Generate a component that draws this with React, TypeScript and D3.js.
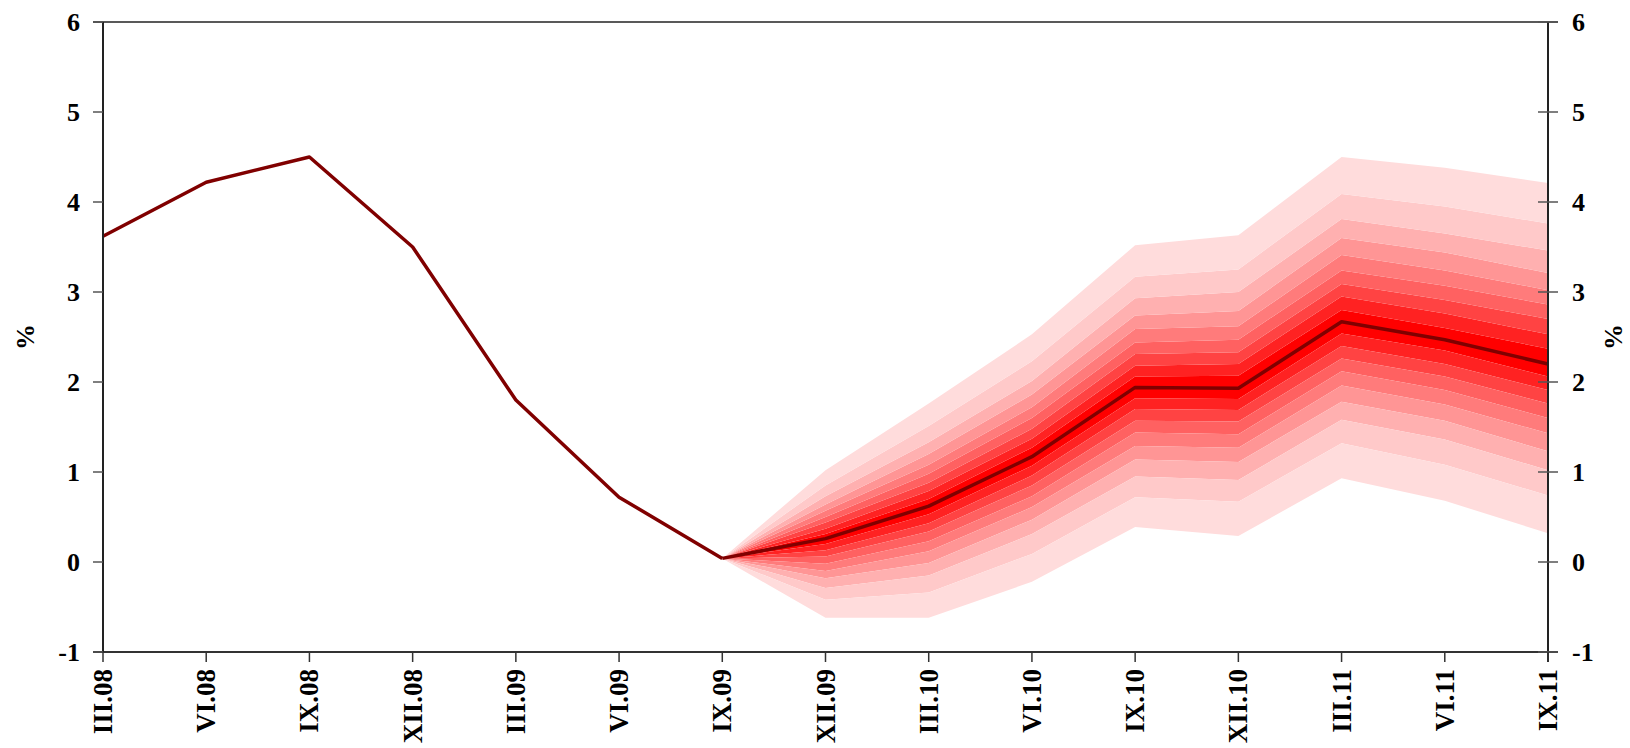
import { useMemo } from 'react'
import * as d3 from 'd3'

// quarters on the x axis
const quarters = [
  'III.08', 'VI.08', 'IX.08', 'XII.08', 'III.09', 'VI.09', 'IX.09',
  'XII.09', 'III.10', 'VI.10', 'IX.10', 'XII.10', 'III.11', 'VI.11', 'IX.11',
]

// actual data, III.08 - IX.09
const history = [3.62, 4.22, 4.5, 3.5, 1.8, 0.72, 0.04]

// projection, IX.09 - IX.11
const forecastQuarters = quarters.slice(6)
const central = [0.04, 0.26, 0.62, 1.17, 1.94, 1.93, 2.67, 2.47, 2.2]

// band edges, one row per forecast quarter, inner (10%) -> outer (90%)
const upper = [
  [0.04, 0.04, 0.04, 0.04, 0.04, 0.04, 0.04, 0.04, 0.04],
  [0.31, 0.37, 0.44, 0.5, 0.57, 0.64, 0.73, 0.85, 1.02],
  [0.7, 0.79, 0.88, 0.98, 1.08, 1.2, 1.33, 1.51, 1.76],
  [1.27, 1.37, 1.48, 1.6, 1.72, 1.86, 2.01, 2.23, 2.53],
  [2.06, 2.18, 2.31, 2.44, 2.59, 2.74, 2.93, 3.17, 3.52],
  [2.07, 2.2, 2.33, 2.47, 2.62, 2.79, 3.0, 3.25, 3.63],
  [2.8, 2.95, 3.09, 3.24, 3.41, 3.6, 3.81, 4.09, 4.5],
  [2.6, 2.76, 2.91, 3.07, 3.24, 3.44, 3.65, 3.95, 4.38],
  [2.37, 2.53, 2.7, 2.86, 3.02, 3.21, 3.46, 3.76, 4.21],
]
const lower = [
  [0.04, 0.04, 0.04, 0.04, 0.04, 0.04, 0.04, 0.04, 0.04],
  [0.2, 0.13, 0.06, -0.02, -0.1, -0.18, -0.29, -0.42, -0.62],
  [0.53, 0.43, 0.34, 0.23, 0.12, -0.01, -0.15, -0.34, -0.62],
  [1.07, 0.96, 0.85, 0.73, 0.61, 0.47, 0.31, 0.09, -0.22],
  [1.82, 1.7, 1.57, 1.44, 1.29, 1.14, 0.95, 0.72, 0.39],
  [1.81, 1.69, 1.56, 1.42, 1.27, 1.11, 0.91, 0.67, 0.29],
  [2.54, 2.4, 2.26, 2.12, 1.96, 1.78, 1.58, 1.32, 0.93],
  [2.35, 2.2, 2.06, 1.91, 1.75, 1.57, 1.36, 1.08, 0.68],
  [2.06, 1.91, 1.76, 1.6, 1.43, 1.23, 1.02, 0.74, 0.32],
]

const bandColors = [
  '#ff0000', '#ff2222', '#ff4343', '#ff6161', '#ff7b7b',
  '#ff9595', '#ffb0b0', '#ffc9c9', '#ffdcdc',
]

const yTicks = [-1, 0, 1, 2, 3, 4, 5, 6]

const W = 1630
const H = 748
const left = 103
const right = 1548
const top = 22
const bottom = 652

export default function App() {
  const x = useMemo(() => d3.scalePoint<string>().domain(quarters).range([left, right]), [])
  const y = useMemo(() => d3.scaleLinear().domain([-1, 6]).range([bottom, top]), [])

  const line = d3
    .line<number>()
    .x((_, i) => x(quarters[i]) as number)
    .y((d) => y(d))

  const fcLine = d3
    .line<number>()
    .x((_, i) => x(forecastQuarters[i]) as number)
    .y((d) => y(d))

  const band = d3
    .area<[number, number]>()
    .x((_, i) => x(forecastQuarters[i]) as number)
    .y0((d) => y(d[0]))
    .y1((d) => y(d[1]))

  const bands: { d: string; color: string }[] = []
  bandColors.forEach((color, k) => {
    if (k === 0) {
      bands.push({ d: band(forecastQuarters.map((_, i) => [lower[i][0], upper[i][0]]))!, color })
    } else {
      bands.push({ d: band(forecastQuarters.map((_, i) => [upper[i][k - 1], upper[i][k]]))!, color })
      bands.push({ d: band(forecastQuarters.map((_, i) => [lower[i][k], lower[i][k - 1]]))!, color })
    }
  })

  const font = '"Liberation Serif", "Times New Roman", serif'

  return (
    <svg width={W} height={H} style={{ position: 'absolute', left: 0, top: 0 }} fontFamily={font}>
      <rect width={W} height={H} fill="#fff" />

      {bands.map((b, i) => (
        <path key={i} d={b.d} fill={b.color} stroke="none" />
      ))}

      <path d={line(history)!} fill="none" stroke="#800000" strokeWidth={3.5} strokeLinejoin="round" />
      <path d={fcLine(central)!} fill="none" stroke="#800000" strokeWidth={3.5} strokeLinejoin="round" />

      {/* frame */}
      <line x1={left - 10} x2={right + 10} y1={top} y2={top} stroke="#222" strokeWidth={1.5} />
      <line x1={left - 10} x2={right + 10} y1={bottom} y2={bottom} stroke="#333" strokeWidth={2} />
      <line x1={left} x2={left} y1={top} y2={bottom} stroke="#222" strokeWidth={2} />
      <line x1={right} x2={right} y1={top} y2={bottom + 10} stroke="#222" strokeWidth={2} />

      {yTicks.map((t) => (
        <g key={t}>
          <line x1={left - 10} x2={left} y1={y(t)} y2={y(t)} stroke="#555" strokeWidth={1.5} />
          <line x1={right - 10} x2={right + 10} y1={y(t)} y2={y(t)} stroke="#555" strokeWidth={1.5} />
          <text x={80} y={y(t)} dy="0.35em" textAnchor="end" fontSize={26} fontWeight="bold">
            {t}
          </text>
          <text x={1572} y={y(t)} dy="0.35em" textAnchor="start" fontSize={26} fontWeight="bold">
            {t}
          </text>
        </g>
      ))}

      {quarters.map((q) => {
        const px = x(q) as number
        return (
          <g key={q}>
            <line x1={px} x2={px} y1={bottom} y2={bottom + 10} stroke="#333" strokeWidth={1.5} />
            <text
              transform={`translate(${px + 9},${bottom + 17}) rotate(-90)`}
              textAnchor="end"
              fontSize={27}
              fontWeight="bold"
            >
              {q}
            </text>
          </g>
        )
      })}

      <text transform={`translate(34,${(top + bottom) / 2}) rotate(-90)`} textAnchor="middle" fontSize={26} fontWeight="bold">
        %
      </text>
      <text transform={`translate(1622,${(top + bottom) / 2}) rotate(-90)`} textAnchor="middle" fontSize={26} fontWeight="bold">
        %
      </text>
    </svg>
  )
}
